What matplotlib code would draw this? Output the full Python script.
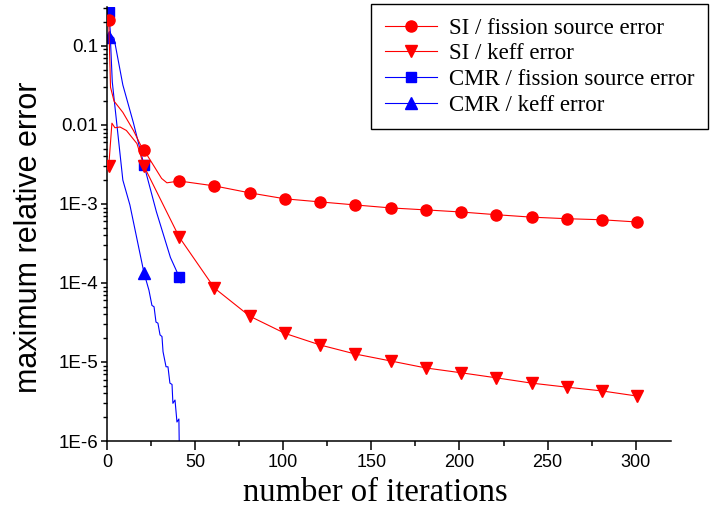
import matplotlib
matplotlib.use("Agg")
import matplotlib.pyplot as plt
from matplotlib.lines import Line2D
from matplotlib.ticker import FixedLocator, FixedFormatter, LogLocator, NullFormatter

# iterations where markers are drawn
mk_iters = [1, 21, 41, 61, 81, 101, 121, 141, 161, 181, 201, 221, 241, 261, 281, 301]

# SI / fission source error
si_src_mk = [0.213, 0.0048, 0.00195, 0.00169, 0.00138, 0.00116, 0.00106, 0.00097,
             0.00089, 0.00084, 0.00079, 0.00073, 0.00068, 0.00065, 0.00063, 0.00059]
si_src_x = [1, 2, 4, 9, 15, 19, 21, 31, 34, 41, 61, 81, 101, 121, 141, 161, 181,
            201, 221, 241, 261, 281, 301]
si_src_y = [0.213, 0.03, 0.02, 0.0144, 0.0085, 0.0056, 0.0048, 0.0021, 0.00185, 0.00195,
            0.00169, 0.00138, 0.00116, 0.00106, 0.00097, 0.00089, 0.00084, 0.00079,
            0.00073, 0.00068, 0.00065, 0.00063, 0.00059]

# SI / keff error
si_keff_mk = [0.003, 0.003, 0.00038, 8.6e-5, 3.8e-5, 2.3e-5, 1.64e-5, 1.26e-5,
              1.03e-5, 8.4e-6, 7.3e-6, 6.3e-6, 5.4e-6, 4.8e-6, 4.3e-6, 3.7e-6]
si_keff_x = [1, 2.8, 4.5, 7.4, 11, 17, 21, 41, 61, 81, 101, 121, 141, 161, 181,
             201, 221, 241, 261, 281, 301]
si_keff_y = [0.003, 0.0105, 0.0092, 0.0094, 0.0085, 0.0058, 0.003, 0.00038, 8.6e-5,
             3.8e-5, 2.3e-5, 1.64e-5, 1.26e-5, 1.03e-5, 8.4e-6, 7.3e-6, 6.3e-6,
             5.4e-6, 4.8e-6, 4.3e-6, 3.7e-6]

# CMR / fission source error
cmr_src_mk_x = [1, 21, 41]
cmr_src_mk = [0.27, 0.0031, 0.000119]
cmr_src_x = [1, 2, 4, 9, 15, 21, 28, 36, 41, 42]
cmr_src_y = [0.27, 0.14, 0.125, 0.032, 0.0106, 0.0031, 0.0008, 0.00021, 0.000119, 0.0001]

# CMR / keff error
cmr_keff_mk_x = [1, 21]
cmr_keff_mk = [0.13, 0.000134]
cmr_keff_x = [1, 2, 3, 9, 13, 21, 23.8, 25.5, 26.7, 27.8, 28.9, 30.1, 31.2, 31.8,
              33.5, 34.6, 35.7, 36.9, 37.4, 38.6, 39.7, 40.8, 41]
cmr_keff_y = [0.13, 0.115, 0.035, 0.002, 0.00097, 0.000134, 8.1e-5, 5.2e-5, 5.0e-5,
              3.2e-5, 3.1e-5, 2.2e-5, 2.1e-5, 1.35e-5, 8.7e-6, 8.7e-6, 5.4e-6, 5.2e-6,
              3.0e-6, 3.3e-6, 1.74e-6, 1.9e-6, 9e-7]

ytick_vals = [1e-6, 1e-5, 1e-4, 1e-3, 1e-2, 1e-1]
ytick_labels = ["1E-6", "1E-5", "1E-4", "1E-3", "0.01", "0.1"]

RED = "#ff0000"
BLUE = "#0000ff"

fig = plt.figure(figsize=(7.19, 5.16), dpi=100)
ax = fig.add_axes([0.1488, 0.1453, 0.7844, 0.8411])

# CMR underneath
ax.plot(cmr_src_x, cmr_src_y, color=BLUE, lw=0.8, zorder=2)
ax.plot(cmr_src_mk_x, cmr_src_mk, ls="none", marker="s", ms=6.5, color=BLUE, zorder=2)
ax.plot(cmr_keff_x, cmr_keff_y, color=BLUE, lw=0.8, zorder=2)
ax.plot(cmr_keff_mk_x, cmr_keff_mk, ls="none", marker="^", ms=8.5, color=BLUE, zorder=2)

ax.plot(si_src_x, si_src_y, color=RED, lw=0.8, zorder=3)
ax.plot(mk_iters, si_src_mk, ls="none", marker="o", ms=8, color=RED, zorder=3)
ax.plot(si_keff_x, si_keff_y, color=RED, lw=0.8, zorder=3)
ax.plot(mk_iters, si_keff_mk, ls="none", marker="v", ms=9, color=RED, zorder=3)

ax.set_yscale("log")
ax.set_xlim(0, 320)
ax.set_ylim(1e-6, 0.31)

ax.spines["top"].set_visible(False)
ax.spines["right"].set_visible(False)
for s in ("left", "bottom"):
    ax.spines[s].set_linewidth(1.1)

ax.xaxis.set_major_locator(FixedLocator([0, 50, 100, 150, 200, 250, 300]))
ax.xaxis.set_minor_locator(FixedLocator([25, 75, 125, 175, 225, 275]))
ax.yaxis.set_major_locator(FixedLocator(ytick_vals))
ax.yaxis.set_major_formatter(FixedFormatter(ytick_labels))
ax.yaxis.set_minor_locator(LogLocator(base=10, subs=range(2, 10), numticks=20))
ax.yaxis.set_minor_formatter(NullFormatter())

ax.tick_params(axis="x", which="major", direction="out", length=6.5, width=1.1, pad=3,
               labelsize=13)
ax.tick_params(axis="x", which="minor", direction="out", length=3.5, width=1.1)
ax.tick_params(axis="y", which="major", direction="out", length=4.5, width=1.1, pad=2,
               labelsize=13.5)
ax.tick_params(axis="y", which="minor", direction="out", length=3, width=1.0)
for lab in ax.get_xticklabels() + ax.get_yticklabels():
    lab.set_family("Liberation Sans")

ax.set_ylabel("maximum relative error", family="Liberation Sans", fontsize=22)
ax.yaxis.set_label_coords(-0.112, 0.47)
ax.set_xlabel("number of iterations", family="Liberation Serif", fontsize=23.5)
ax.xaxis.set_label_coords(0.475, -0.083)

handles = [
    Line2D([], [], color=RED, lw=0.8, marker="o", ms=8),
    Line2D([], [], color=RED, lw=0.8, marker="v", ms=9),
    Line2D([], [], color=BLUE, lw=0.8, marker="s", ms=6.5),
    Line2D([], [], color=BLUE, lw=0.8, marker="^", ms=8.5),
]
labels = ["SI / fission source error", "SI / keff error",
          "CMR / fission source error", "CMR / keff error"]
leg = fig.legend(handles, labels, loc="upper right",
                 bbox_to_anchor=(708 / 719, 1 - 4 / 516), bbox_transform=fig.transFigure,
                 prop={"family": "Liberation Serif", "size": 16.5},
                 frameon=True, fancybox=False, edgecolor="black", framealpha=1,
                 borderpad=0.6, handlelength=2.3, handletextpad=0.5, labelspacing=0.2,
                 borderaxespad=0)
leg.get_frame().set_linewidth(1.0)

fig.savefig("out.png", dpi=100)
